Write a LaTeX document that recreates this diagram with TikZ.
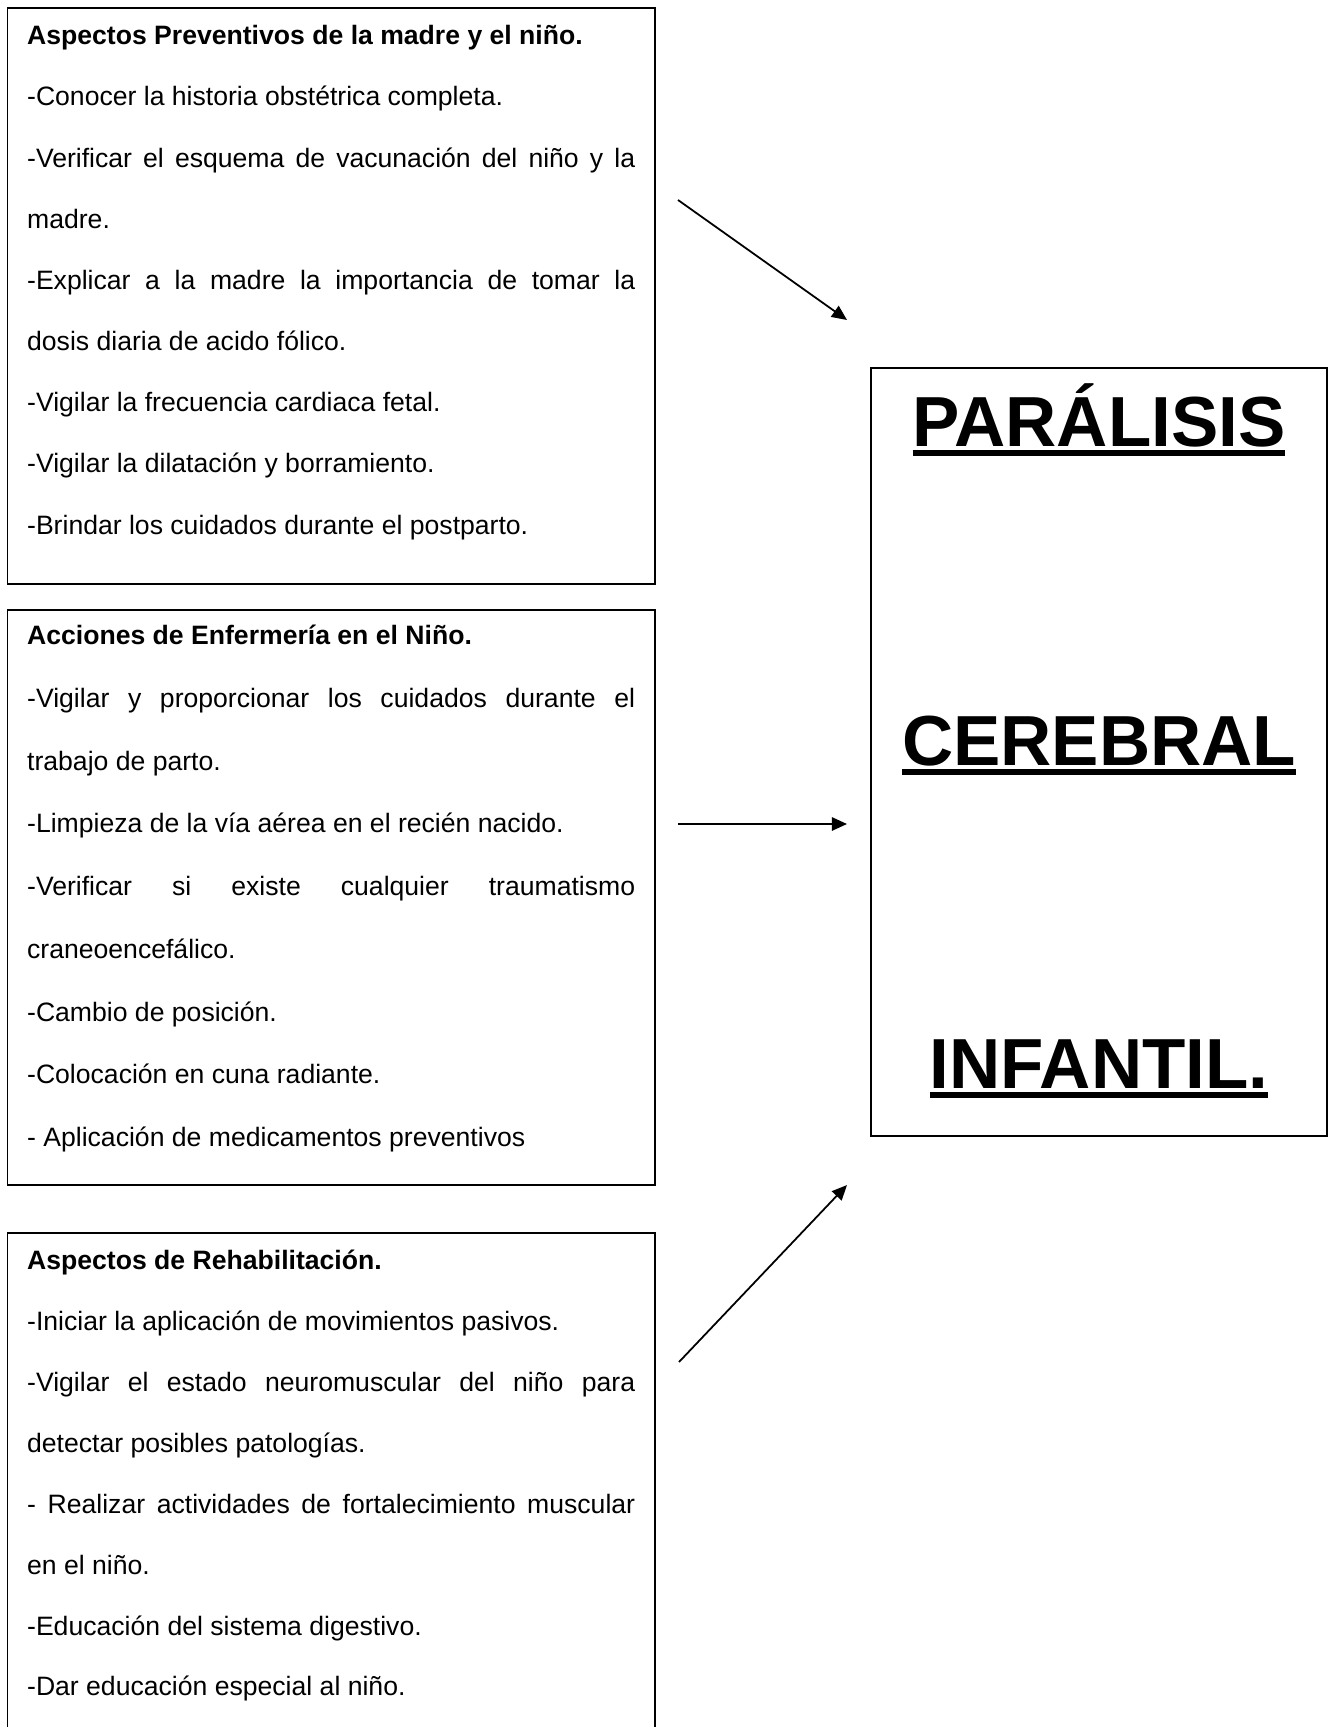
\documentclass[tikz,border=0pt]{standalone}
\usepackage{fontspec}
\setmainfont{Liberation Sans}
\usetikzlibrary{arrows.meta,positioning}
\definecolor{ink}{HTML}{000000}
\hyphenpenalty=10000
\newcommand{\ulword}[1]{\setbox0\hbox{#1}\rlap{\rule[-4.5pt]{\wd0}{2.5pt}}\box0}

\begin{document}
\begin{tikzpicture}[x=0.4513pt,y=-0.4513pt,>={Triangle[length=6.8pt,width=6pt]},
  listbox/.style={draw=ink,line width=0.75pt,anchor=north west,text width=274.4pt,
    align=justify,inner xsep=8.9pt,inner ysep=0pt,
    font=\fontsize{12}{#1}\selectfont},
  titleword/.style={anchor=base,inner sep=0pt,font=\fontsize{32}{38}\selectfont\bfseries},
  link/.style={->,ink,line width=0.8pt}]
\useasboundingbox (0,0) rectangle (1329,1727);
% three boxes on the left
\node[listbox=27.6pt,text height=16.7pt,text depth=243.2pt] (prev) at (6.6,7) {%
{\bfseries Aspectos Preventivos de la madre y el niño.}\par
-Conocer la historia obstétrica completa.\par
-Verificar el esquema de vacunación del niño y la\linebreak madre.\par
-Explicar a la madre la importancia de tomar la\linebreak dosis diaria de acido fólico.\par
-Vigilar la frecuencia cardiaca fetal.\par
-Vigilar la dilatación y borramiento.\par
-Brindar los cuidados durante el postparto.};
\node[listbox=28.3pt,text height=15.8pt,text depth=243.7pt] (acc) at (6.6,609) {%
{\bfseries Acciones de Enfermería en el Niño.}\par
-Vigilar y proporcionar los cuidados durante el\linebreak trabajo de parto.\par
-Limpieza de la vía aérea en el recién nacido.\par
-Verificar si existe cualquier traumatismo\linebreak craneoencefálico.\par
-Cambio de posición.\par
-Colocación en cuna radiante.\par
- Aplicación de medicamentos preventivos};
\node[listbox=27.5pt,text height=16.5pt,text depth=221.8pt] (rehab) at (6.6,1232) {%
{\bfseries Aspectos de Rehabilitación.}\par
-Iniciar la aplicación de movimientos pasivos.\par
-Vigilar el estado neuromuscular del niño para\linebreak detectar posibles patologías.\par
- Realizar actividades de fortalecimiento muscular\linebreak en el niño.\par
-Educación del sistema digestivo.\par
-Dar educación especial al niño.};
% big box on the right
\node[draw=ink,line width=0.9pt,minimum width=205.8pt,minimum height=346.6pt,inner sep=0pt] (pci) at (1099,752) {};
\foreach \nm/\yy/\word in {par/446/PARÁLISIS,cer/765/CEREBRAL,inf/1088/INFANTIL.}{
  \node[titleword] (\nm) at (1099,\yy) {\ulword{\word}};
}
% arrows
\coordinate (s1) at (678,200);  \coordinate (e1) at (847,320);
\coordinate (s2) at (678,824);  \coordinate (e2) at (847,824);
\coordinate (s3) at (679,1362); \coordinate (e3) at (847,1185);
\foreach \i in {1,2,3}{
  \draw[link] (s\i) -- (e\i);
}
\end{tikzpicture}
\end{document}
